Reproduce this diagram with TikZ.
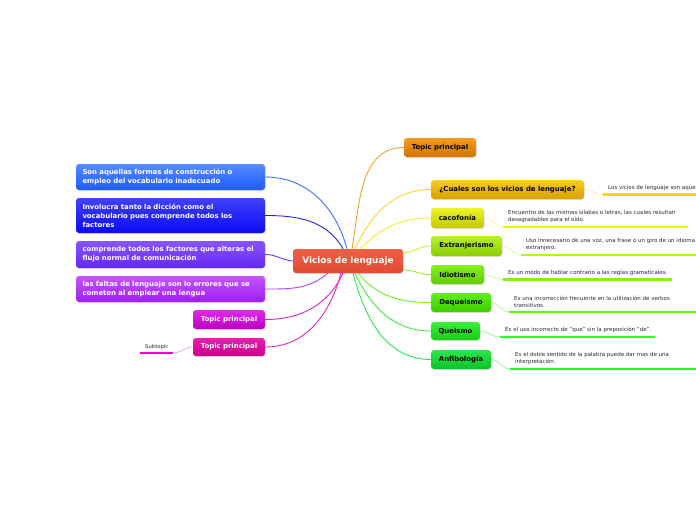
\documentclass[tikz,border=0pt]{standalone}
\usepackage{fontspec}
\setmainfont{DejaVu Sans}
\usetikzlibrary{shadows}
\definecolor{cA}{RGB}{60,110,255}
\definecolor{cB}{RGB}{35,35,245}
\definecolor{cC}{RGB}{115,55,255}
\definecolor{cD}{RGB}{180,60,255}
\definecolor{cE}{RGB}{215,30,225}
\definecolor{cF}{RGB}{235,40,190}
\definecolor{cO}{RGB}{245,160,40}
\definecolor{cG}{RGB}{255,210,50}
\definecolor{cY}{RGB}{240,240,50}
\definecolor{cX}{RGB}{195,245,50}
\definecolor{cI}{RGB}{150,245,40}
\definecolor{cQ}{RGB}{105,245,40}
\definecolor{cU}{RGB}{55,240,55}
\definecolor{cN}{RGB}{40,230,80}
\definecolor{uL}{RGB}{255,0,200}
\definecolor{u1}{RGB}{255,215,0}
\definecolor{u2}{RGB}{235,245,0}
\definecolor{u3}{RGB}{175,250,20}
\definecolor{u4}{RGB}{125,250,10}
\definecolor{u5}{RGB}{95,250,10}
\definecolor{u6}{RGB}{45,250,45}
\definecolor{u7}{RGB}{30,245,60}
\definecolor{txt}{RGB}{40,40,40}
\definecolor{ctop}{RGB}{238,95,70}
\definecolor{cbot}{RGB}{225,75,50}
\tikzset{
  box/.style={rounded corners=3pt, draw=none, inner sep=0pt,
    drop shadow={opacity=0.25,shadow xshift=0.6pt,shadow yshift=-0.9pt}},
  leftbox/.style={box, text=white, font=\fontsize{6.9}{8.8}\selectfont\bfseries,
    text width=176pt, inner xsep=6.5pt, align=left},
  rightbox/.style={box, text=black, font=\fontsize{6.9}{8}\selectfont\bfseries, align=center},
  conn/.style={line width=0.9pt},
  sconn/.style={line width=0.5pt},
  ul/.style={line width=2.4pt},
  subtext/.style={font=\fontsize{5.5}{7}\selectfont, text=txt, inner sep=0pt, align=left, anchor=west}
}
\begin{document}
\begin{tikzpicture}[x=1pt,y=-1pt]
\useasboundingbox (0,0) rectangle (696,520);
% center
\node[box, top color=ctop, bottom color=cbot, text=white,
  font=\fontsize{8.9}{10}\selectfont\bfseries, minimum width=110pt, minimum height=24pt] (c) at (348,261) {Vicios de lenguaje};
% left nodes
\node[leftbox, top color={rgb,255:red,85;green,140;blue,255}, bottom color={rgb,255:red,30;green,90;blue,255}, minimum height=26pt] (l1) at (170.5,177)
  {Son aquellas formas de construcción o\\empleo del vocabulario inadecuado};
\node[leftbox, top color={rgb,255:red,65;green,65;blue,255}, bottom color={rgb,255:red,10;green,10;blue,240}, minimum height=35pt] (l2) at (170.5,215.5)
  {Involucra tanto la dicción como el\\vocabulario pues comprende todos los\\factores};
\node[leftbox, top color={rgb,255:red,135;green,85;blue,255}, bottom color={rgb,255:red,100;green,40;blue,240}, minimum height=27pt] (l3) at (170.5,254.5)
  {comprende todos los factores que alteras el\\flujo normal de comunicación};
\node[leftbox, top color={rgb,255:red,195;green,85;blue,255}, bottom color={rgb,255:red,160;green,30;blue,240}, minimum height=26pt] (l4) at (170.5,289)
  {las faltas de lenguaje son lo errores que se\\cometen al emplear una lengua};
\node[rightbox, text=white, top color={rgb,255:red,225;green,40;blue,235}, bottom color={rgb,255:red,185;green,0;blue,195}, minimum width=72pt, minimum height=19pt] (l5) at (229,319.5) {Topic principal};
\node[rightbox, text=white, top color={rgb,255:red,235;green,30;blue,175}, bottom color={rgb,255:red,200;green,0;blue,140}, minimum width=72pt, minimum height=18pt] (l6) at (229,347) {Topic principal};
% right nodes
\node[rightbox, top color={rgb,255:red,245;green,155;blue,30}, bottom color={rgb,255:red,210;green,115;blue,0}, minimum width=72pt, minimum height=19pt] (rt) at (440,147.5) {Topic principal};
\node[rightbox, top color={rgb,255:red,245;green,205;blue,30}, bottom color={rgb,255:red,215;green,160;blue,0}, minimum width=153pt, minimum height=19pt] (r1) at (507.5,189.5) {¿Cuales son los vicios de lenguaje?};
\node[rightbox, top color={rgb,255:red,235;green,245;blue,40}, bottom color={rgb,255:red,195;green,200;blue,0}, minimum width=53pt, minimum height=20pt] (r2) at (457.5,218) {cacofonía};
\node[rightbox, top color={rgb,255:red,185;green,240;blue,40}, bottom color={rgb,255:red,140;green,205;blue,0}, minimum width=71pt, minimum height=20pt] (r3) at (466.5,246) {Extranjerismo};
\node[rightbox, top color={rgb,255:red,135;green,240;blue,30}, bottom color={rgb,255:red,95;green,205;blue,0}, minimum width=53pt, minimum height=19pt] (r4) at (457.5,274.5) {Idiotismo};
\node[rightbox, top color={rgb,255:red,95;green,240;blue,30}, bottom color={rgb,255:red,60;green,205;blue,0}, minimum width=60pt, minimum height=19pt] (r5) at (461,302.5) {Dequeismo};
\node[rightbox, top color={rgb,255:red,55;green,240;blue,55}, bottom color={rgb,255:red,20;green,205;blue,20}, minimum width=49pt, minimum height=18pt] (r6) at (455.5,331) {Queismo};
\node[rightbox, top color={rgb,255:red,45;green,230;blue,75}, bottom color={rgb,255:red,10;green,195;blue,40}, minimum width=60pt, minimum height=19pt] (r7) at (461,359.5) {Anfibología};
% main connectors
\draw[conn, cA] ([xshift=-1pt]c.north) to[out=105,in=0] (l1.east);
\draw[conn, cB] ([xshift=-5pt]c.north) to[out=120,in=0] (l2.east);
\draw[conn, cC] (c.west) to[out=175,in=0] (l3.east);
\draw[conn, cD] ([xshift=-20pt]c.south) to[out=-140,in=0] (l4.east);
\draw[conn, cE] ([xshift=-5pt]c.south) to[out=-115,in=0] (l5.east);
\draw[conn, cF] ([xshift=-7pt]c.south) to[out=-105,in=0] (l6.east);
\draw[conn, cO] ([xshift=4pt]c.north) to[out=80,in=180] (rt.west);
\draw[conn, cG] ([xshift=7pt]c.north) to[out=65,in=180] (r1.west);
\draw[conn, cY] ([xshift=12pt]c.north) to[out=45,in=180] (r2.west);
\draw[conn, cX] ([yshift=8pt]c.east) to[out=5,in=180] (r3.west);
\draw[conn, cI] ([yshift=-9pt]c.east) to[out=0,in=180] (r4.west);
\draw[conn, cQ] ([xshift=10pt]c.south) to[out=-50,in=180] (r5.west);
\draw[conn, cU] ([xshift=7pt]c.south) to[out=-65,in=180] (r6.west);
\draw[conn, cN] ([xshift=5pt]c.south) to[out=-75,in=180] (r7.west);
% left subtopic
\coordinate (sLa) at (140,353); \coordinate (sLb) at (173,353);
\draw[ul, uL] (sLa) -- (sLb);
\node[subtext, font=\fontsize{5.3}{6}\selectfont, anchor=base west] (tL) at (145,348) {Subtopic};
\draw[sconn, cF!60!white] (l6.west) to[out=180,in=0] (sLb);
% right subtopics
\coordinate (s1a) at (603,194.5); \coordinate (s1b) at (696,194.5);
\draw[ul, u1] (s1a) -- (s1b);
\node[subtext] (t1) at (608,188) {Los vicios de lenguaje son aque};
\draw[sconn, cG!70!white] (r1.east) to[out=0,in=180] (s1a);

\coordinate (s2a) at (503,227); \coordinate (s2b) at (688,227);
\draw[ul, u2] (s2a) -- (s2b);
\node[subtext] (t2) at (508,216.5) {Encuentro de las mismas silabas o letras, las cuales resultan\\desagradables para el oído.};
\draw[sconn, cY!70!white] (r2.east) to[out=0,in=180] (s2a);

\coordinate (s3a) at (521,255); \coordinate (s3b) at (696,255);
\draw[ul, u3] (s3a) -- (s3b);
\node[subtext] (t3) at (526,244.5) {Uso innecesario de una voz, una frase o un giro de un idioma\\extranjero.};
\draw[sconn, cX!70!white] (r3.east) to[out=0,in=180] (s3a);

\coordinate (s4a) at (503,279.5); \coordinate (s4b) at (672,279.5);
\draw[ul, u4] (s4a) -- (s4b);
\node[subtext] (t4) at (508,273) {Es un modo de hablar contrario a las reglas gramaticales.};
\draw[sconn, cI!70!white] (r4.east) to[out=0,in=180] (s4a);

\coordinate (s5a) at (509,312); \coordinate (s5b) at (696,312);
\draw[ul, u5] (s5a) -- (s5b);
\node[subtext] (t5) at (514,301.5) {Es una incorrección frecuente en la utilización de verbos\\transitivos.};
\draw[sconn, cQ!70!white] (r5.east) to[out=0,in=180] (s5a);

\coordinate (s6a) at (500,337); \coordinate (s6b) at (655,337);
\draw[ul, u6] (s6a) -- (s6b);
\node[subtext] (t6) at (505,330) {Es el uso incorrecto de "que" sin la preposición "de".};
\draw[sconn, cU!70!white] (r6.east) to[out=0,in=180] (s6a);

\coordinate (s7a) at (510,369); \coordinate (s7b) at (696,369);
\draw[ul, u7] (s7a) -- (s7b);
\node[subtext] (t7) at (515,358.5) {Es el doble sentido de la palabra puede dar mas de una\\interpretación.};
\draw[sconn, cN!70!white] (r7.east) to[out=0,in=180] (s7a);
\end{tikzpicture}
\end{document}
